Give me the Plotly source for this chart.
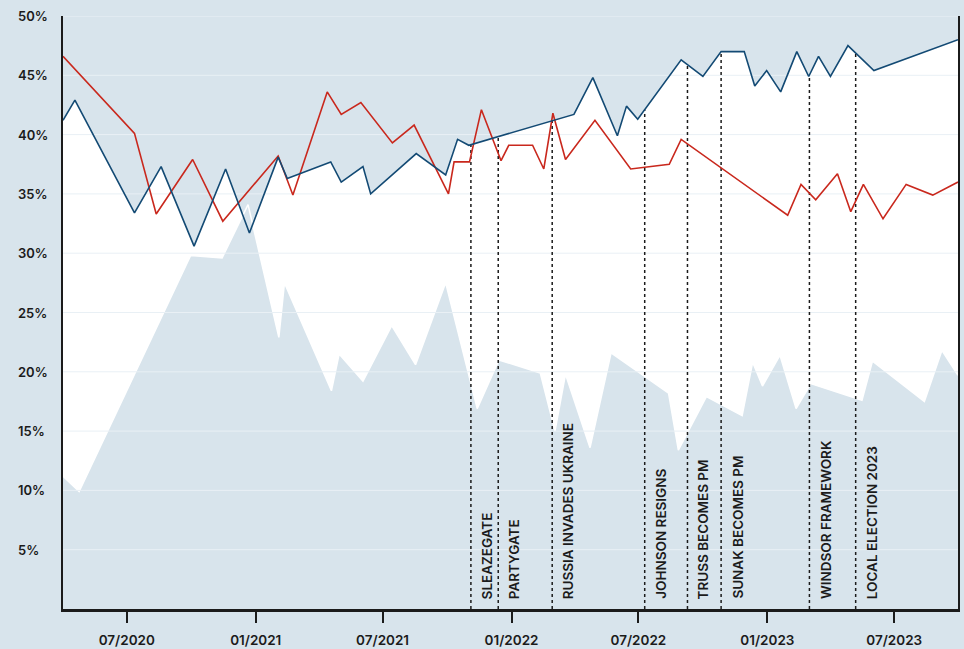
import plotly.graph_objects as go
import numpy as np
import pandas as pd

# ---------------- data ----------------
blue_dates = ["2020-04-01", "2020-04-18", "2020-07-12", "2020-08-19", "2020-10-05", "2020-11-19",
              "2020-12-23", "2021-02-02", "2021-02-15", "2021-04-18", "2021-05-03", "2021-06-03",
              "2021-06-14", "2021-08-18", "2021-09-29", "2021-10-16", "2021-11-01", "2022-03-31",
              "2022-04-27", "2022-06-01", "2022-06-14", "2022-06-30", "2022-08-31", "2022-10-01",
              "2022-10-27", "2022-11-29", "2022-12-14", "2022-12-31", "2023-01-20", "2023-02-12",
              "2023-03-01", "2023-03-15", "2023-04-01", "2023-04-26", "2023-06-02", "2023-09-30"]
blue_vals = [41.2, 42.9, 33.4, 37.3, 30.6, 37.1,
             31.7, 38.1, 36.3, 37.7, 36.0, 37.3,
             35.0, 38.4, 36.6, 39.6, 39.1, 41.7,
             44.8, 39.9, 42.4, 41.3, 46.3, 44.9,
             47.0, 47.0, 44.1, 45.4, 43.6, 47.0,
             44.9, 46.6, 44.9, 47.5, 45.4, 48.0]

red_dates = ["2020-04-01", "2020-07-12", "2020-08-12", "2020-10-03", "2020-11-15", "2021-02-02",
             "2021-02-23", "2021-04-13", "2021-05-03", "2021-05-31", "2021-07-15", "2021-08-15",
             "2021-10-03", "2021-10-11", "2021-11-02", "2021-11-19", "2021-12-17", "2021-12-28",
             "2022-01-31", "2022-02-16", "2022-03-01", "2022-03-19", "2022-04-30", "2022-06-20",
             "2022-08-14", "2022-08-31", "2023-01-30", "2023-02-18", "2023-03-11", "2023-04-11",
             "2023-04-30", "2023-05-18", "2023-06-15", "2023-07-18", "2023-08-25", "2023-09-30"]
red_vals = [46.6, 40.1, 33.3, 37.9, 32.7, 38.2,
            34.9, 43.6, 41.7, 42.7, 39.3, 40.8,
            35.0, 37.7, 37.7, 42.1, 37.8, 39.1,
            39.1, 37.1, 41.8, 37.9, 41.2, 37.1,
            37.5, 39.6, 33.2, 35.8, 34.5, 36.7,
            33.5, 35.8, 32.9, 35.8, 34.9, 36.0]

lower_dates = ["2020-04-01", "2020-04-24", "2020-09-30", "2020-11-14", "2020-12-21", "2021-02-03",
               "2021-02-11", "2021-04-19", "2021-04-30", "2021-06-03", "2021-07-14", "2021-08-17",
               "2021-09-29", "2021-11-13", "2021-12-14", "2022-02-11", "2022-03-04", "2022-03-19",
               "2022-04-23", "2022-05-23", "2022-08-13", "2022-08-27", "2022-10-06", "2022-11-26",
               "2022-12-11", "2022-12-25", "2023-01-19", "2023-02-11", "2023-03-04", "2023-05-16",
               "2023-05-31", "2023-08-13", "2023-09-07", "2023-09-30"]
lower_vals = [11.2, 9.9, 29.8, 29.6, 34.1, 22.9,
              27.5, 18.4, 21.5, 19.2, 23.9, 20.6,
              27.5, 16.9, 21.0, 19.9, 15.0, 19.8,
              13.6, 21.6, 18.2, 13.4, 17.9, 16.3,
              20.8, 18.8, 21.4, 16.9, 19.0, 17.6,
              20.9, 17.5, 21.8, 19.7]

event_dates = ["2021-11-04", "2021-12-13", "2022-02-28", "2022-07-10",
               "2022-09-09", "2022-10-27", "2023-03-02", "2023-05-07"]
event_labels = ["SLEAZEGATE", "PARTYGATE", "RUSSIA INVADES UKRAINE", "JOHNSON RESIGNS",
                "TRUSS BECOMES PM", "SUNAK BECOMES PM", "WINDSOR FRAMEWORK", "LOCAL ELECTION 2023"]

y_ticks = [5, 10, 15, 20, 25, 30, 35, 40, 45, 50]
y_tick_labels = [f"{v}%" for v in y_ticks]
x_tick_dates = ["2020-07-01", "2021-01-01", "2021-07-01", "2022-01-01",
                "2022-07-01", "2023-01-01", "2023-07-01"]
x_range = ["2020-04-01", "2023-09-30"]

# ---------------- styles ----------------
BG = "#d8e4ec"
GRID = "#e9f0f5"
BLUE = "#134a74"
RED = "#c9281d"
INK = "#1b1b1b"
FONT = "Inter"

# event line tops follow the blue line
def to_num(d):
    return pd.to_datetime(pd.Series(d)).astype("int64").to_numpy() / 1e9

event_tops = np.interp(to_num(event_dates), to_num(blue_dates), blue_vals)

fig = go.Figure()

# white band below the blue line
fig.add_trace(go.Scatter(x=blue_dates, y=blue_vals, mode="lines", fill="tozeroy",
                         fillcolor="white", line=dict(width=0), hoverinfo="skip",
                         showlegend=False))
# light area at the bottom
fig.add_trace(go.Scatter(x=lower_dates, y=lower_vals, mode="lines", fill="tozeroy",
                         fillcolor=BG, line=dict(color="white", width=1.5),
                         hoverinfo="skip", showlegend=False))
# gridlines (above fills, below lines)
gx, gy = [], []
for v in y_ticks:
    gx += [x_range[0], x_range[1], None]
    gy += [v, v, None]
fig.add_trace(go.Scatter(x=gx, y=gy, mode="lines", line=dict(color=GRID, width=1),
                         hoverinfo="skip", showlegend=False))
# event lines
ex, ey = [], []
for d, top in zip(event_dates, event_tops):
    ex += [d, d, None]
    ey += [0, top, None]
fig.add_trace(go.Scatter(x=ex, y=ey, mode="lines",
                         line=dict(color=INK, width=1.5, dash="dot"),
                         hoverinfo="skip", showlegend=False))
fig.add_trace(go.Scatter(x=red_dates, y=red_vals, mode="lines",
                         line=dict(color=RED, width=1.6), showlegend=False))
fig.add_trace(go.Scatter(x=blue_dates, y=blue_vals, mode="lines",
                         line=dict(color=BLUE, width=1.6), showlegend=False))

annotations = []
for d, lab in zip(event_dates, event_labels):
    annotations.append(dict(x=d, y=0, xref="x", yref="y", text=lab, showarrow=False,
                            textangle=-90, xanchor="left", yanchor="bottom",
                            xshift=6, yshift=8,
                            font=dict(family=FONT, size=13.5, color=INK, weight=600)))
for v, lab in zip(y_ticks, y_tick_labels):
    annotations.append(dict(x=0, y=v, xref="paper", yref="y", text=lab, showarrow=False,
                            xanchor="left", yanchor="middle", xshift=-47,
                            font=dict(family=FONT, size=13, color=INK, weight=600)))

fig.update_layout(
    width=964, height=649,
    margin=dict(l=63, r=6, t=16, b=40, autoexpand=False),
    paper_bgcolor=BG, plot_bgcolor=BG,
    showlegend=False,
    annotations=annotations,
    xaxis=dict(type="date", range=x_range, tickvals=x_tick_dates, tickformat="%m/%Y",
               ticks="outside", ticklen=11, tickwidth=1.5, tickcolor=INK,
               ticklabelstandoff=6,
               showline=True, linewidth=3, linecolor=INK, showgrid=False, zeroline=False,
               tickfont=dict(family=FONT, size=13.5, color=INK, weight=600)),
    yaxis=dict(range=[0, 50], showgrid=False, zeroline=False, showticklabels=False,
               ticks="", showline=True, linewidth=1.5, linecolor=INK, mirror=True),
)

fig.write_html("out.html", config={"displayModeBar": False},
               post_script="document.body.style.margin='0';"
                           "document.body.style.background='" + BG + "';")
